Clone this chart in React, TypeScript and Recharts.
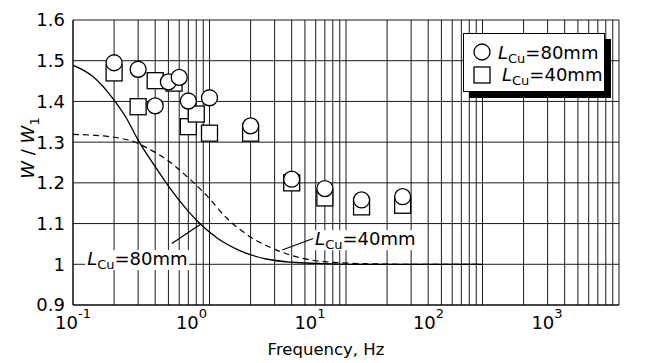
import React from 'react';
import { ComposedChart, Line, Scatter, XAxis, YAxis, CartesianGrid, ReferenceLine, ReferenceDot } from 'recharts';

// log grid lines (every 1..9 per decade)
const gridFreqs = [
  0.1, 0.2, 0.3, 0.4, 0.5, 0.6, 0.7, 0.8, 0.9,
  1, 2, 3, 4, 5, 6, 7, 8, 9,
  10, 20, 30, 40, 50, 60, 70, 80, 90,
  100, 200, 300, 400, 500, 600, 700, 800, 900,
  1000,
];
const majorFreqs = [0.1, 1, 10, 100, 1000];
const majorExps = ['-1', '0', '1', '2', '3'];
const ratioTicks = [0.9, 1, 1.1, 1.2, 1.3, 1.4, 1.5, 1.6];

// measured points
const circleFreqs = [0.2, 0.3, 0.4, 0.5, 0.6, 0.7, 1.0, 2, 4, 7, 13, 26];
const circleRatios = [1.495, 1.479, 1.389, 1.448, 1.459, 1.401, 1.409, 1.34, 1.209, 1.186, 1.158, 1.166];
const squareFreqs = [0.2, 0.3, 0.4, 0.55, 0.7, 0.8, 1.0, 2, 4, 7, 13, 26];
const squareRatios = [1.47, 1.387, 1.451, 1.445, 1.338, 1.369, 1.322, 1.322, 1.2, 1.163, 1.141, 1.145];

// calculated curves
const curve80Freqs = [0.1, 0.14, 0.2, 0.25, 0.3, 0.4, 0.5, 0.68, 0.85, 1.13, 1.68, 2.6, 4, 6.3, 10, 30, 100];
const curve80Ratios = [1.489, 1.461, 1.403, 1.355, 1.305, 1.24, 1.192, 1.135, 1.1, 1.065, 1.033, 1.013, 1.005, 1.002, 1.0, 1.0, 1.0];
const curve40Freqs = [0.1, 0.14, 0.2, 0.28, 0.37, 0.49, 0.65, 0.74, 0.96, 1.34, 1.88, 2.95, 4.6, 7.2, 16, 30, 100];
const curve40Ratios = [1.319, 1.317, 1.312, 1.301, 1.281, 1.256, 1.222, 1.205, 1.168, 1.113, 1.073, 1.038, 1.016, 1.006, 1.001, 1.0, 1.0];

// curve labels (anchor = left end of text baseline) and their leader lines
const noteTexts = ['=80mm', '=40mm'];
const noteFreqs = [0.127, 5.94];
const noteRatios = [0.998, 1.047];
const leader80 = [{ x: 0.53, y: 1.051 }, { x: 0.855, y: 1.098 }];
const leader40 = [{ x: 3.41, y: 1.035 }, { x: 6.15, y: 1.067 }];

const zip = (fs: number[], ws: number[]) => fs.map((f, i) => ({ f, w: ws[i] }));
const circles = zip(circleFreqs, circleRatios);
const squares = zip(squareFreqs, squareRatios);
const curve80 = zip(curve80Freqs, curve80Ratios);
const curve40 = zip(curve40Freqs, curve40Ratios);
const notes = noteTexts.map((t, i) => ({ t, f: noteFreqs[i], w: noteRatios[i] }));

const FONT = '"DejaVu Sans", Arial, sans-serif';

const CircleMark = (p: any) => (
  <circle cx={p.cx} cy={p.cy} r={8} fill="#fff" stroke="#000" strokeWidth={1.3} />
);
const SquareMark = (p: any) => (
  <rect x={p.cx - 8} y={p.cy - 8} width={16} height={16} fill="#fff" stroke="#000" strokeWidth={1.3} />
);

const FreqTick = (p: any) => {
  const k = majorFreqs.indexOf(p.payload.value);
  if (k < 0) return <g />;
  return (
    <text x={p.x - 18 * k} y={p.y + 24} textAnchor="middle" fontFamily={FONT} fontSize={18} fill="#000">
      <tspan>10</tspan>
      <tspan dy={-11} fontSize={13}>{majorExps[k]}</tspan>
    </text>
  );
};

const XTitle = (p: any) => {
  const vb = p.viewBox;
  return (
    <text x={vb.x + vb.width / 2 - 20} y={355} textAnchor="middle" fontFamily={FONT} fontSize={16.5} fill="#000">
      Frequency, Hz
    </text>
  );
};

const YTitle = () => (
  <text x={34} y={148} transform="rotate(-90, 34, 148)" textAnchor="middle" fontFamily={FONT} fontSize={18} fill="#000">
    <tspan fontStyle="italic">W</tspan>
    <tspan> / </tspan>
    <tspan fontStyle="italic">W</tspan>
    <tspan dy={5} fontSize={13}>1</tspan>
  </text>
);

const LcuText = ({ x, y, rest }: { x: number; y: number; rest: string }) => (
  <text x={x} y={y} fontFamily={FONT} fontSize={18} fill="#000">
    <tspan fontStyle="italic">L</tspan>
    <tspan dy={4} fontSize={13}>Cu</tspan>
    <tspan dy={-4}>{rest}</tspan>
  </text>
);

const NoteShape = (text: string) => (p: any) => (
  <g>
    <rect x={p.cx - 2} y={p.cy - 15} width={104} height={20} fill="#fff" />
    <LcuText x={p.cx} y={p.cy} rest={text} />
  </g>
);

const Legend80 = () => (
  <div
    style={{
      position: 'absolute', left: 463, top: 33, width: 142, height: 59,
      border: '1px solid #000', background: '#fff', boxShadow: '6px 6px 0 #000', boxSizing: 'border-box',
    }}
  >
    <svg width={142} height={59} style={{ display: 'block' }}>
      <circle cx={18} cy={18} r={8} fill="#fff" stroke="#000" strokeWidth={1.3} />
      <rect x={10} y={33} width={16} height={16} fill="#fff" stroke="#000" strokeWidth={1.3} />
      <LcuText x={34} y={25} rest="=80mm" />
      <LcuText x={38} y={47} rest="=40mm" />
    </svg>
  </div>
);

export default function App() {
  return (
    <div style={{ position: 'absolute', left: 0, top: 0, width: 645, height: 363, background: '#fff' }}>
      <ComposedChart width={645} height={363} margin={{ top: 20, right: 26, bottom: 0, left: 0 }}>
        <CartesianGrid stroke="#1a1a1a" strokeWidth={1} />
        <XAxis
          dataKey="f"
          type="number"
          scale="log"
          domain={[0.1, 1000]}
          ticks={gridFreqs}
          interval={0}
          height={58}
          tickSize={0}
          tickMargin={0}
          tick={<FreqTick />}
          axisLine={{ stroke: '#000' }}
          allowDataOverflow
          label={<XTitle />}
        />
        <YAxis
          dataKey="w"
          type="number"
          domain={[0.9, 1.6]}
          ticks={ratioTicks}
          interval={0}
          width={73}
          tickSize={0}
          tickMargin={8}
          tickFormatter={(v: number) => (v === 1 ? '1' : v.toFixed(1))}
          tick={{ fill: '#000', fontSize: 18, fontFamily: FONT }}
          axisLine={{ stroke: '#000' }}
          allowDataOverflow
        />
        <Line data={curve80} dataKey="w" type="monotone" stroke="#000" strokeWidth={1.3} dot={false} isAnimationActive={false} />
        <Line data={curve40} dataKey="w" type="monotone" stroke="#000" strokeWidth={1.2} strokeDasharray="6 4" dot={false} isAnimationActive={false} />
        <ReferenceLine segment={leader80} stroke="#000" strokeWidth={1.2} />
        <ReferenceLine segment={leader40} stroke="#000" strokeWidth={1.2} />
        {notes.map((n) => (
          <ReferenceDot key={n.t} x={n.f} y={n.w} r={1} shape={NoteShape(n.t)} />
        ))}
        <Scatter data={squares} dataKey="w" shape={SquareMark} isAnimationActive={false} />
        <Scatter data={circles} dataKey="w" shape={CircleMark} isAnimationActive={false} />
      </ComposedChart>
      <svg width={80} height={363} style={{ position: 'absolute', left: 0, top: 0, pointerEvents: 'none' }}>
        <YTitle />
      </svg>
      <Legend80 />
    </div>
  );
}
